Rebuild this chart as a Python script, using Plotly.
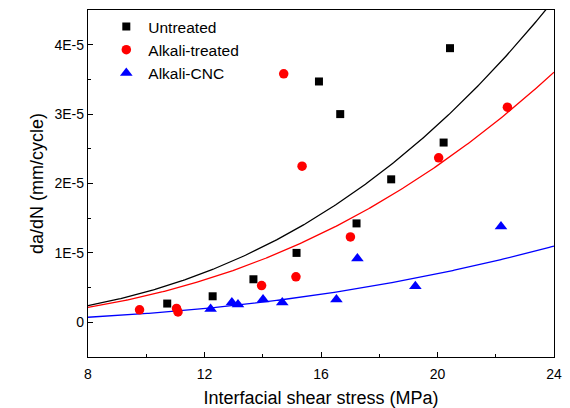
import numpy as np
import plotly.graph_objects as go

# Data (x: interfacial shear stress MPa, y: da/dN mm/cycle)
untreated_x = [10.72, 12.28, 13.68, 15.16, 15.93, 16.66, 17.22, 18.41, 20.21, 20.43]
untreated_y = [0.27e-5, 0.375e-5, 0.62e-5, 1.0e-5, 3.47e-5, 3.0e-5, 1.425e-5, 2.06e-5, 2.59e-5, 3.95e-5]

alkali_x = [9.77, 11.04, 11.09, 13.96, 14.72, 15.14, 15.35, 17.01, 20.04, 22.40]
alkali_y = [0.18e-5, 0.20e-5, 0.15e-5, 0.53e-5, 3.58e-5, 0.655e-5, 2.25e-5, 1.23e-5, 2.37e-5, 3.10e-5]

cnc_x = [12.21, 12.94, 13.15, 14.01, 14.67, 16.53, 17.25, 19.24, 22.18]
cnc_y = [0.19e-5, 0.285e-5, 0.255e-5, 0.33e-5, 0.285e-5, 0.33e-5, 0.92e-5, 0.52e-5, 1.38e-5]

# Paris-law style power fits y = C * x^m, parameters
fit_untreated = (8.805e-9, 2.697)
fit_alkali = (1.052e-8, 2.561)
fit_cnc = (4.278e-9, 2.47)

y_tickvals = [0, 1e-5, 2e-5, 3e-5, 4e-5]
y_ticktext = ["0", "1E-5", "2E-5", "3E-5", "4E-5"]
x_tickvals = [8, 12, 16, 20, 24]

xs = np.linspace(8, 24, 300)

fig = go.Figure()
for (C, m), col in [(fit_untreated, "#000000"), (fit_alkali, "#ff0000"), (fit_cnc, "#0000ff")]:
    fig.add_trace(go.Scatter(x=xs, y=C * xs ** m, mode="lines",
                             line=dict(color=col, width=1.3), showlegend=False,
                             hoverinfo="skip"))

fig.add_trace(go.Scatter(x=untreated_x, y=untreated_y, mode="markers", name="Untreated",
                         marker=dict(symbol="square", size=8, color="#000000")))
fig.add_trace(go.Scatter(x=alkali_x, y=alkali_y, mode="markers", name="Alkali-treated",
                         marker=dict(symbol="circle", size=9.5, color="#ff0000")))
fig.add_trace(go.Scatter(x=cnc_x, y=cnc_y, mode="markers", name="Alkali-CNC",
                         marker=dict(symbol="triangle-up", size=11, color="#0000ff")))

axis_font = dict(family="Liberation Sans, Arial, sans-serif", size=14, color="#000000")

fig.update_layout(
    width=570, height=408,
    margin=dict(l=88, r=16, t=10, b=51, autoexpand=False),
    paper_bgcolor="white", plot_bgcolor="white",
    font=dict(family="Liberation Sans, Arial, sans-serif", color="#000000"),
    showlegend=True,
    legend=dict(x=0.035, y=1.0, xanchor="left", yanchor="top",
                font=dict(size=15.5, family="Liberation Sans, Arial, sans-serif"),
                bgcolor="rgba(0,0,0,0)", tracegroupgap=0, itemsizing="trace",
                itemwidth=34),
    xaxis=dict(range=[8, 24], tickvals=x_tickvals, ticks="inside", ticklen=5,
               tickwidth=1.2, tickcolor="#000000", automargin=False,
               minor=dict(dtick=2, ticks="inside", ticklen=3, tickwidth=1.2, tickcolor="#000000"),
               showline=True, linecolor="#000000", linewidth=1.3, mirror=True,
               showgrid=False, zeroline=False, tickfont=axis_font, ticklabelstandoff=4,
               title=dict(text="Interfacial shear stress (MPa)",
                          font=dict(size=18, family="Liberation Sans, Arial, sans-serif"),
                          standoff=16)),
    yaxis=dict(range=[-5e-6, 4.5e-5], tickvals=y_tickvals, ticktext=y_ticktext,
               ticks="inside", ticklen=5, tickwidth=1.2, tickcolor="#000000", automargin=False,
               minor=dict(tickvals=[-5e-6, 5e-6, 1.5e-5, 2.5e-5, 3.5e-5], ticks="inside",
                          ticklen=3, tickwidth=1.2, tickcolor="#000000"),
               showline=True, linecolor="#000000", linewidth=1.3, mirror=True,
               showgrid=False, zeroline=False, tickfont=axis_font,
               title=dict(text="da/dN (mm/cycle)",
                          font=dict(size=18, family="Liberation Sans, Arial, sans-serif"),
                          standoff=6)),
)

fig.write_html("out.html")
